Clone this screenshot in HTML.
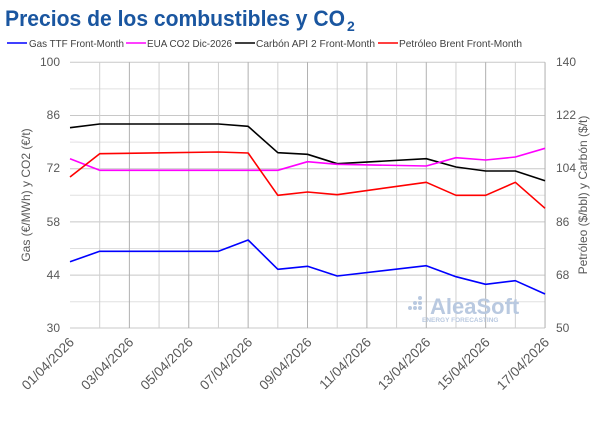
<!DOCTYPE html>
<html><head><meta charset="utf-8"><style>
body{margin:0;background:#fff;width:600px;height:418px;overflow:hidden;font-family:"Liberation Sans",sans-serif}
</style></head><body>
<svg width="600" height="418" xmlns="http://www.w3.org/2000/svg" font-family="Liberation Sans, sans-serif">
<text x="5" y="26" font-size="22" font-weight="bold" fill="#1a56a0" textLength="340" lengthAdjust="spacingAndGlyphs">Precios de los combustibles y CO</text><text x="347" y="31" font-size="14" font-weight="bold" fill="#1a56a0">2</text>
<g font-size="10.5" fill="#404040">
<line x1="7" y1="43" x2="27" y2="43" stroke="#0000ff" stroke-width="1.5"/><text x="29" y="47" textLength="95" lengthAdjust="spacingAndGlyphs">Gas TTF Front-Month</text>
<line x1="126" y1="43" x2="146" y2="43" stroke="#ff00ff" stroke-width="1.5"/><text x="147" y="47" textLength="85" lengthAdjust="spacingAndGlyphs">EUA CO2 Dic-2026</text>
<line x1="235" y1="43" x2="255" y2="43" stroke="#000" stroke-width="1.5"/><text x="256" y="47" textLength="119" lengthAdjust="spacingAndGlyphs">Carbón API 2 Front-Month</text>
<line x1="378" y1="43" x2="398" y2="43" stroke="#ff0000" stroke-width="1.5"/><text x="399" y="47" textLength="123" lengthAdjust="spacingAndGlyphs">Petróleo Brent Front-Month</text>
</g>
<g stroke="#e0e0e0" stroke-width="1">
<line x1="70" y1="88.9" x2="545" y2="88.9"/><line x1="70" y1="142.1" x2="545" y2="142.1"/><line x1="70" y1="195.3" x2="545" y2="195.3"/><line x1="70" y1="248.5" x2="545" y2="248.5"/><line x1="70" y1="301.7" x2="545" y2="301.7"/>
</g>
<g stroke="#c8c8c8" stroke-width="1">
<line x1="70" y1="62.3" x2="545" y2="62.3"/><line x1="70" y1="115.5" x2="545" y2="115.5"/><line x1="70" y1="168.7" x2="545" y2="168.7"/><line x1="70" y1="221.9" x2="545" y2="221.9"/><line x1="70" y1="275.1" x2="545" y2="275.1"/><line x1="70" y1="328" x2="545" y2="328"/>
</g>
<g stroke="#bbb" stroke-width="1" id="vg"></g>
<g font-size="12" fill="#595959" text-anchor="end">
<text x="60" y="66">100</text><text x="60" y="119">86</text><text x="60" y="172">72</text><text x="60" y="226">58</text><text x="60" y="279">44</text><text x="60" y="332">30</text>
</g>
<g font-size="12" fill="#595959">
<text x="556" y="66">140</text><text x="556" y="119">122</text><text x="556" y="172">104</text><text x="556" y="226">86</text><text x="556" y="279">68</text><text x="556" y="332">50</text>
</g>
<text transform="translate(30,195) rotate(-90)" font-size="12" fill="#595959" text-anchor="middle">Gas (€/MWh) y CO2 (€/t)</text>
<text transform="translate(587,195) rotate(-90)" font-size="12" fill="#595959" text-anchor="middle">Petróleo ($/bbl) y Carbón ($/t)</text>
<g font-size="13.5" fill="#595959" text-anchor="end" id="xl"></g>
<text x="430" y="314" font-size="22" font-weight="bold" fill="#b9c9e0">AleaSoft</text>
<text x="422" y="322" font-size="6.5" fill="#b9c9e0" font-weight="bold">ENERGY FORECASTING</text>
<g fill="#b9c9e0"><circle cx="410" cy="308" r="2"/><circle cx="415" cy="308" r="2"/><circle cx="420" cy="308" r="2"/><circle cx="415" cy="303" r="2"/><circle cx="420" cy="303" r="2"/><circle cx="420" cy="298" r="2"/></g>
<g fill="none" stroke-width="1.6" stroke-linejoin="round">
<polyline id="k" stroke="#000"/><polyline id="m" stroke="#ff00ff"/><polyline id="r" stroke="#ff0000"/><polyline id="b" stroke="#0000ff"/>
</g>
</svg>
<script>
var X=function(i){return 70+i*29.69};
var vg=document.getElementById('vg'),xl=document.getElementById('xl'),ns='http://www.w3.org/2000/svg';
for(var i=1;i<=16;i++){var l=document.createElementNS(ns,'line');l.setAttribute('x1',X(i));l.setAttribute('x2',X(i));l.setAttribute('y1',62.3);l.setAttribute('y2',328);l.setAttribute('stroke',i%2==0?'#b0b0b0':'#d0d0d0');vg.appendChild(l);}
for(var i=0;i<=16;i+=2){var t=document.createElementNS(ns,'text');var x=X(i)+5,y=343;t.setAttribute('transform','translate('+x+','+y+') rotate(-45)');t.textContent=(i+1<10?'0':'')+(i+1)+'/04/2026';xl.appendChild(t);}
function set(id,d){document.getElementById(id).setAttribute('points',d.map(function(p){return X(p[0])+','+p[1]}).join(' '));}
set('k',[[0,127.7],[1,124],[5,124],[6,126.3],[7,152.7],[8,154.3],[9,163.7],[12,158.7],[13,167],[14,171],[15,171],[16,180.7]]);
set('m',[[0,158.7],[1,170.3],[7,170.3],[8,161.7],[9,164.3],[12,166],[13,157.7],[14,160],[15,157],[16,148.3]]);
set('r',[[0,177],[1,153.7],[5,152],[6,153],[7,195.3],[8,192],[9,194.7],[12,182.3],[13,195.3],[14,195.3],[15,182.3],[16,208.3]]);
set('b',[[0,261.7],[1,251.3],[5,251.3],[6,240],[7,269.3],[8,266.3],[9,276],[12,265.7],[13,276.7],[14,284.3],[15,280.7],[16,294]]);
</script>
</body></html>
